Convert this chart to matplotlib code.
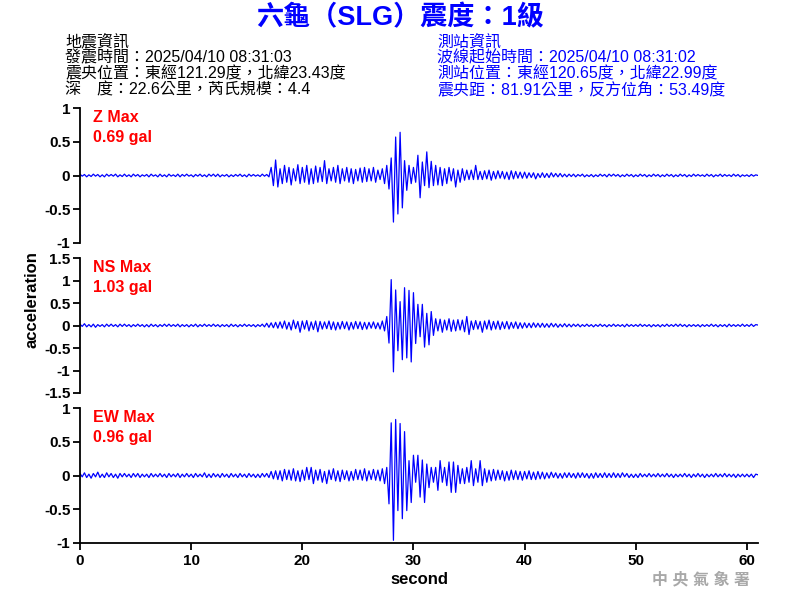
import numpy as np
import matplotlib.pyplot as plt

FONTS = ['Liberation Sans', 'Noto Sans CJK TC']

title = '六龜（SLG）震度：1級'
quake_info = ['地震資訊',
              '發震時間：2025/04/10 08:31:03',
              '震央位置：東經121.29度，北緯23.43度',
              '深　度：22.6公里，芮氏規模：4.4']
station_info = ['測站資訊',
                '波線起始時間：2025/04/10 08:31:02',
                '測站位置：東經120.65度，北緯22.99度',
                '震央距：81.91公里，反方位角：53.49度']

sample_step = 0.2  # seconds between values below

# Z component, 2 s per row
z_rows = [
    [0.02, -0.01, 0.015, -0.02, 0.01, -0.015, 0.02, -0.01, 0.015, -0.02],
    [0.01, -0.02, 0.02, -0.01, 0.015, -0.01, 0.02, -0.02, 0.01, -0.015],
    [0.02, -0.015, 0.01, -0.02, 0.02, -0.01, 0.015, -0.02, 0.01, -0.01],
    [0.015, -0.02, 0.02, -0.01, 0.01, -0.02, 0.02, -0.015, 0.01, -0.02],
    [0.02, -0.01, 0.01, -0.015, 0.02, -0.02, 0.015, -0.01, 0.02, -0.01],
    [0.01, -0.02, 0.015, -0.01, 0.02, -0.015, 0.01, -0.02, 0.02, -0.01],
    [0.02, -0.015, 0.02, -0.02, 0.01, -0.01, 0.015, -0.02, 0.01, -0.015],
    [0.015, -0.01, 0.02, -0.015, 0.01, -0.02, 0.02, -0.01, 0.015, -0.01],
    [0.01, -0.015, 0.02, -0.01, 0.015, -0.02, 0.12, -0.15, 0.23, -0.17],
    [0.1, -0.12, 0.15, -0.1, 0.12, -0.14, 0.1, -0.08, 0.16, -0.12],
    [0.12, -0.1, 0.15, -0.13, 0.1, -0.12, 0.14, -0.1, 0.12, -0.09],
    [0.22, -0.12, 0.1, -0.08, 0.12, -0.1, 0.15, -0.12, 0.1, -0.08],
    [0.12, -0.1, 0.1, -0.12, 0.09, -0.08, 0.11, -0.1, 0.12, -0.09],
    [0.1, -0.08, 0.12, -0.1, 0.08, -0.06, 0.1, -0.12, 0.15, -0.2],
    [0.26, -0.69, 0.57, -0.57, 0.64, -0.48, 0.22, -0.22, 0.15, -0.12],
    [0.12, -0.1, 0.3, -0.33, 0.2, -0.15, 0.35, -0.18, 0.21, -0.15],
    [0.15, -0.14, 0.12, -0.15, 0.1, -0.12, 0.12, -0.08, 0.1, -0.17],
    [0.08, -0.1, 0.1, -0.07, 0.08, -0.06, 0.08, -0.06, 0.15, -0.06],
    [0.06, -0.06, 0.07, -0.05, 0.08, -0.07, 0.06, -0.05, 0.07, -0.04],
    [0.06, -0.05, 0.05, -0.06, 0.07, -0.05, 0.06, -0.04, 0.05, -0.04],
    [0.05, -0.04, 0.04, -0.03, 0.04, -0.05, 0.03, -0.03, 0.04, -0.03],
    [0.03, -0.03, 0.04, -0.02, 0.03, -0.02, 0.03, -0.02, 0.02, -0.02],
    [0.02, -0.015, 0.02, -0.02, 0.015, -0.01, 0.02, -0.02, 0.01, -0.015],
    [0.015, -0.02, 0.01, -0.015, 0.02, -0.01, 0.015, -0.02, 0.02, -0.01],
    [0.02, -0.01, 0.015, -0.02, 0.01, -0.015, 0.02, -0.01, 0.015, -0.02],
    [0.01, -0.015, 0.02, -0.01, 0.015, -0.02, 0.01, -0.015, 0.02, -0.01],
    [0.015, -0.02, 0.01, -0.015, 0.02, -0.01, 0.015, -0.02, 0.01, -0.015],
    [0.02, -0.01, 0.015, -0.02, 0.01, -0.015, 0.02, -0.01, 0.015, -0.01],
    [0.01, -0.015, 0.02, -0.01, 0.015, -0.02, 0.01, -0.01, 0.02, -0.015],
    [0.015, -0.01, 0.01, -0.015, 0.02, -0.01, 0.015, -0.02, 0.01, -0.01],
    [0.01, -0.015, 0.015, -0.01, 0.01, 0.0],
]

# NS component
ns_rows = [
    [0.03, -0.02, 0.04, -0.03, 0.02, -0.03, 0.03, -0.04, 0.02, -0.02],
    [0.02, -0.03, 0.03, -0.02, 0.03, -0.02, 0.02, -0.03, 0.03, -0.02],
    [0.03, -0.02, 0.02, -0.03, 0.02, -0.02, 0.03, -0.02, 0.02, -0.03],
    [0.02, -0.03, 0.03, -0.02, 0.02, -0.03, 0.02, -0.02, 0.03, -0.02],
    [0.03, -0.02, 0.02, -0.02, 0.03, -0.03, 0.02, -0.02, 0.02, -0.03],
    [0.02, -0.02, 0.03, -0.03, 0.02, -0.02, 0.03, -0.02, 0.02, -0.02],
    [0.03, -0.02, 0.02, -0.03, 0.02, -0.02, 0.02, -0.03, 0.03, -0.02],
    [0.02, -0.03, 0.02, -0.02, 0.03, -0.02, 0.02, -0.02, 0.02, -0.03],
    [0.02, -0.02, 0.03, -0.03, 0.05, -0.04, 0.06, -0.05, 0.07, -0.06],
    [0.08, -0.06, 0.1, -0.08, 0.07, -0.1, 0.12, -0.07, 0.09, -0.15],
    [0.1, -0.08, 0.11, -0.12, 0.08, -0.09, 0.1, -0.14, 0.09, -0.08],
    [0.08, -0.07, 0.1, -0.09, 0.08, -0.1, 0.07, -0.08, 0.09, -0.07],
    [0.08, -0.1, 0.07, -0.08, 0.09, -0.07, 0.08, -0.09, 0.07, -0.08],
    [0.07, -0.06, 0.08, -0.07, 0.06, -0.08, 0.1, -0.12, 0.2, -0.39],
    [1.02, -1.03, 0.79, -0.56, 0.53, -0.76, 0.84, -0.72, 0.78, -0.81],
    [0.73, -0.4, 0.47, -0.25, 0.47, -0.48, 0.27, -0.43, 0.31, -0.22],
    [0.15, -0.12, 0.14, -0.15, 0.12, -0.1, 0.15, -0.13, 0.12, -0.12],
    [0.13, -0.1, 0.12, -0.14, 0.2, -0.2, 0.1, -0.09, 0.11, -0.08],
    [0.09, -0.15, 0.1, -0.08, 0.12, -0.1, 0.09, -0.08, 0.1, -0.09],
    [0.08, -0.07, 0.09, -0.08, 0.07, -0.06, 0.08, -0.07, 0.06, -0.06],
    [0.06, -0.05, 0.05, -0.05, 0.06, -0.04, 0.05, -0.04, 0.05, -0.04],
    [0.04, -0.04, 0.05, -0.03, 0.04, -0.04, 0.03, -0.03, 0.04, -0.03],
    [0.03, -0.03, 0.03, -0.02, 0.03, -0.03, 0.02, -0.02, 0.03, -0.02],
    [0.02, -0.03, 0.02, -0.02, 0.03, -0.02, 0.02, -0.03, 0.02, -0.02],
    [0.03, -0.02, 0.02, -0.02, 0.02, -0.03, 0.03, -0.02, 0.02, -0.02],
    [0.02, -0.02, 0.03, -0.02, 0.02, -0.02, 0.02, -0.03, 0.02, -0.02],
    [0.02, -0.03, 0.02, -0.02, 0.03, -0.02, 0.02, -0.02, 0.03, -0.02],
    [0.03, -0.02, 0.02, -0.03, 0.02, -0.02, 0.02, -0.02, 0.02, -0.03],
    [0.02, -0.02, 0.02, -0.02, 0.03, -0.02, 0.02, -0.03, 0.02, -0.02],
    [0.02, -0.03, 0.03, -0.02, 0.02, -0.02, 0.02, -0.02, 0.03, -0.02],
    [0.02, -0.02, 0.03, -0.02, 0.02, 0.01],
]

# EW component
ew_rows = [
    [0.03, -0.02, 0.04, -0.03, 0.02, -0.04, 0.03, -0.02, 0.05, -0.03],
    [0.02, -0.03, 0.04, -0.02, 0.03, -0.03, 0.02, -0.04, 0.03, -0.02],
    [0.03, -0.02, 0.02, -0.03, 0.03, -0.02, 0.03, -0.03, 0.02, -0.02],
    [0.02, -0.03, 0.03, -0.02, 0.02, -0.02, 0.03, -0.02, 0.02, -0.03],
    [0.03, -0.02, 0.02, -0.02, 0.03, -0.03, 0.02, -0.02, 0.03, -0.02],
    [0.02, -0.03, 0.03, -0.02, 0.02, -0.02, 0.04, -0.03, 0.02, -0.03],
    [0.03, -0.02, 0.02, -0.03, 0.03, -0.02, 0.02, -0.03, 0.03, -0.02],
    [0.02, -0.03, 0.03, -0.02, 0.02, -0.03, 0.03, -0.02, 0.02, -0.03],
    [0.02, -0.03, 0.03, -0.02, 0.03, -0.03, 0.06, -0.05, 0.07, -0.06],
    [0.07, -0.08, 0.09, -0.06, 0.08, -0.07, 0.1, -0.08, 0.07, -0.09],
    [0.08, -0.07, 0.12, -0.06, 0.12, -0.12, 0.08, -0.07, 0.09, -0.1],
    [0.06, -0.12, 0.08, -0.06, 0.1, -0.08, 0.07, -0.09, 0.08, -0.06],
    [0.07, -0.08, 0.06, -0.07, 0.09, -0.06, 0.08, -0.07, 0.1, -0.08],
    [0.07, -0.06, 0.09, -0.07, 0.08, -0.08, 0.1, -0.12, 0.12, -0.42],
    [0.78, -0.96, 0.83, -0.52, 0.77, -0.64, 0.65, -0.52, 0.22, -0.4],
    [0.3, -0.1, 0.3, -0.32, 0.23, -0.4, 0.17, -0.18, 0.12, -0.1],
    [0.12, -0.22, 0.22, -0.1, 0.12, -0.15, 0.2, -0.25, 0.2, -0.25],
    [0.15, -0.12, 0.1, -0.12, 0.12, -0.1, 0.22, -0.15, 0.1, -0.1],
    [0.22, -0.15, 0.1, -0.1, 0.08, -0.08, 0.09, -0.07, 0.08, -0.06],
    [0.07, -0.08, 0.06, -0.07, 0.08, -0.06, 0.07, -0.06, 0.06, -0.07],
    [0.06, -0.05, 0.07, -0.06, 0.05, -0.06, 0.06, -0.05, 0.05, -0.05],
    [0.04, -0.04, 0.05, -0.03, 0.04, -0.04, 0.03, -0.04, 0.04, -0.03],
    [0.04, -0.03, 0.03, -0.04, 0.04, -0.03, 0.04, -0.03, 0.03, -0.04],
    [0.03, -0.04, 0.04, -0.03, 0.03, -0.03, 0.04, -0.03, 0.03, -0.03],
    [0.04, -0.03, 0.03, -0.03, 0.04, -0.02, 0.03, -0.03, 0.02, -0.03],
    [0.02, -0.03, 0.03, -0.02, 0.02, -0.02, 0.03, -0.02, 0.02, -0.02],
    [0.03, -0.02, 0.02, -0.02, 0.03, -0.02, 0.02, -0.03, 0.02, -0.02],
    [0.02, -0.02, 0.03, -0.02, 0.02, -0.03, 0.02, -0.02, 0.03, -0.02],
    [0.02, -0.03, 0.02, -0.02, 0.02, -0.02, 0.03, -0.02, 0.02, -0.02],
    [0.03, -0.02, 0.02, -0.02, 0.02, -0.03, 0.02, -0.02, 0.02, -0.02],
    [0.02, -0.02, 0.02, -0.03, 0.02, 0.01],
]

components = ['Z', 'NS', 'EW']
max_gal = ['0.69', '1.03', '0.96']
y_limits = [1, 1.5, 1]
y_ticks = [[-1, -0.5, 0, 0.5, 1],
           [-1.5, -1, -0.5, 0, 0.5, 1, 1.5],
           [-1, -0.5, 0, 0.5, 1]]
y_tick_labels = [['-1', '-0.5', '0', '0.5', '1'],
                 ['-1.5', '-1', '-0.5', '0', '0.5', '1', '1.5'],
                 ['-1', '-0.5', '0', '0.5', '1']]
x_ticks = [0, 10, 20, 30, 40, 50, 60]

traces = [np.concatenate(r) for r in (z_rows, ns_rows, ew_rows)]

fig = plt.figure(figsize=(8, 6), dpi=100)
fig.patch.set_facecolor('white')

bottoms = [0.595, 0.345, 0.095]
axes = []
for i, comp in enumerate(components):
    ax = fig.add_axes([0.1, bottoms[i], 0.8475, 0.225])
    y = traces[i]
    t = np.arange(len(y)) * sample_step
    ax.plot(t, y, color='#0000FF', lw=0.9)
    ax.set_xlim(0, 61)
    ax.set_ylim(-y_limits[i], y_limits[i])
    ax.set_yticks(y_ticks[i])
    ax.set_yticklabels(y_tick_labels[i], fontweight='bold', fontsize=11, family='Liberation Sans')
    for s in ['top', 'right']:
        ax.spines[s].set_visible(False)
    ax.spines['left'].set_linewidth(1.3)
    ax.tick_params(axis='y', length=5, width=1.3, pad=2)
    if i < 2:
        ax.spines['bottom'].set_visible(False)
        ax.set_xticks([])
    else:
        ax.spines['bottom'].set_linewidth(1.3)
        ax.set_xticks(x_ticks)
        ax.set_xticklabels([str(v) for v in x_ticks], fontweight='bold', fontsize=11,
                           family='Liberation Sans')
        ax.tick_params(axis='x', length=5, width=1.3, pad=3)
    ax.text(0.019, 0.93, comp + ' Max', transform=ax.transAxes, color='#FF0000',
            fontsize=11.5, fontweight='bold', va='center', family='Liberation Sans')
    ax.text(0.019, 0.78, max_gal[i] + ' gal', transform=ax.transAxes, color='#FF0000',
            fontsize=11.5, fontweight='bold', va='center', family='Liberation Sans')
    axes.append(ax)

axes[2].set_xlabel('second', fontsize=12, fontweight='bold', family='Liberation Sans', labelpad=3)
fig.text(32 / 800, 0.5, 'acceleration', rotation=90, ha='center', va='center',
         fontsize=12, fontweight='bold', family='Liberation Sans')

fig.text(0.5, 1 - 18 / 600, title, ha='center', va='center', fontsize=19.5,
         fontweight='bold', color='#0000FF', family=FONTS)

line_y = [42, 58, 74, 90]
for i in range(4):
    fig.text(65 / 800, 1 - line_y[i] / 600, quake_info[i], ha='left', va='center',
             fontsize=11.5, color='black', family=FONTS)
    fig.text(437 / 800, 1 - line_y[i] / 600, station_info[i], ha='left', va='center',
             fontsize=11.5, color='#0000FF', family=FONTS)

fig.text(701 / 800, 1 - 580 / 600, '中 央 氣 象 署', ha='center', va='center', fontsize=11.5,
         fontweight='bold', color='#A8A8A8', family=FONTS)

fig.savefig('out.png', dpi=100)
